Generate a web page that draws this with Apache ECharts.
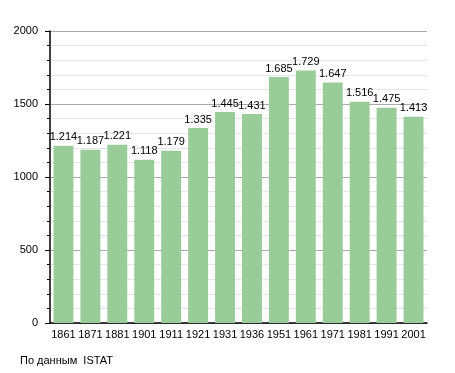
<!DOCTYPE html>
<html>
<head>
<meta charset="utf-8">
<script src="https://cdn.jsdelivr.net/npm/echarts@6/dist/echarts.min.js"></script>
<style>
html,body{margin:0;padding:0;background:#fff;}
#c{width:455px;height:373px;}
</style>
</head>
<body>
<div id="c"></div>
<script>
const categories = ['1861','1871','1881','1901','1911','1921','1931','1936','1951','1961','1971','1981','1991','2001'];
const population = [1214,1187,1221,1118,1179,1335,1445,1431,1685,1729,1647,1516,1475,1413];
const yTicks = [0,500,1000,1500,2000];
const sourceText = 'По данным  ISTAT';

const chart = echarts.init(document.getElementById('c'), null, {renderer:'canvas'});
const fmt = v => { const s = String(v); return s.length > 3 ? s.slice(0, s.length-3) + '.' + s.slice(-3) : s; };
chart.setOption({
  animation:false,
  backgroundColor:'#fff',
  textStyle:{fontFamily:'Liberation Sans, Arial, sans-serif'},
  grid:{left:50,right:28,top:31,bottom:50,containLabel:false},
  graphic:[{type:'text',left:20,top:355,style:{text:sourceText,fontSize:11,fill:'#000',fontFamily:'Liberation Sans, Arial, sans-serif'}}],
  xAxis:{
    type:'category',data:categories,
    axisLine:{lineStyle:{color:'#000',width:1.5}},
    axisTick:{show:false},
    axisLabel:{color:'#000',fontSize:11,margin:6,interval:0}
  },
  yAxis:{
    type:'value',min:yTicks[0],max:yTicks[yTicks.length-1],interval:500,
    axisLine:{show:true,lineStyle:{color:'#000',width:1.5}},
    axisTick:{show:true,length:5,lineStyle:{color:'#000'}},
    minorTick:{show:true,splitNumber:5,length:3,lineStyle:{color:'#000'}},
    axisLabel:{color:'#000',fontSize:11,margin:12,formatter:v=>String(v)},
    splitLine:{lineStyle:{color:'#aaaaaa',width:1}},
    minorSplitLine:{show:true,lineStyle:{color:'#e6e6e6',width:1}}
  },
  series:[{
    type:'bar',data:population,barCategoryGap:'26%',
    itemStyle:{color:'#99cc99'},
    label:{show:true,position:'top',distance:3,color:'#000',fontSize:11,formatter:p=>fmt(p.value)}
  }]
});
</script>
</body>
</html>
